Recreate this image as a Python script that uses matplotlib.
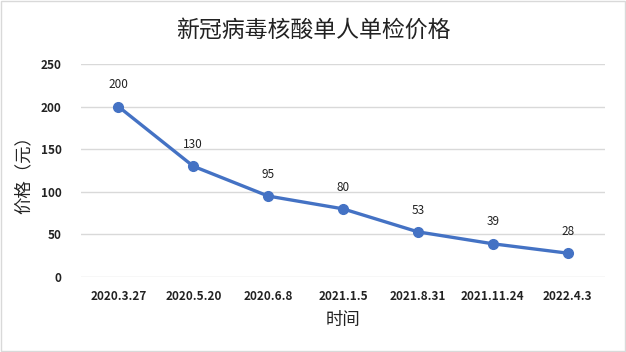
import matplotlib
matplotlib.use("Agg")
import matplotlib.pyplot as plt
from matplotlib.patches import Rectangle

plt.rcParams['font.family'] = ['Noto Sans CJK SC', 'DejaVu Sans']

dates = ['2020.3.27', '2020.5.20', '2020.6.8', '2021.1.5', '2021.8.31', '2021.11.24', '2022.4.3']
prices = [200, 130, 95, 80, 53, 39, 28]

fig = plt.figure(figsize=(6.26, 3.52), dpi=100)
ax = fig.add_axes([81 / 626, 1 - 277 / 352, 524 / 626, 213 / 352])

x = list(range(len(dates)))
ax.plot(x, prices, color='#4472C4', linewidth=2.4, marker='o', markersize=7, zorder=3)
for xi, p in zip(x, prices):
    ax.annotate(str(p), (xi, p), xytext=(0, 11), textcoords='offset points',
                ha='center', va='bottom', fontsize=8.5, color='#222222')

ax.set_xlim(-0.5, len(dates) - 0.5)
ax.set_ylim(0, 250)
ax.set_yticks([0, 50, 100, 150, 200, 250])
ax.set_xticks(x)
ax.set_xticklabels(dates)
ax.tick_params(axis='both', length=0, labelsize=8.5, colors='#222222')
ax.tick_params(axis='x', pad=9)
ax.tick_params(axis='y', pad=14)
for lbl in ax.get_xticklabels() + ax.get_yticklabels():
    lbl.set_fontweight('bold')
ax.grid(axis='y', color='#d9d9d9', linewidth=1)
ax.set_axisbelow(True)
for s in ax.spines.values():
    s.set_visible(False)

ax.set_xlabel('时间', fontsize=12.5, color='#222222', labelpad=6)
ax.set_ylabel('价格（元）', fontsize=12.5, color='#222222', labelpad=6)
fig.text(0.5, 1 - 30 / 352, '新冠病毒核酸单人单检价格', ha='center', va='center',
         fontsize=16.5, color='#222222')

fig.patches.append(Rectangle((0.001, 0.002), 0.997, 0.995, transform=fig.transFigure,
                             fill=False, edgecolor='#d9d9d9', linewidth=1))

fig.savefig('out.png', dpi=100)
